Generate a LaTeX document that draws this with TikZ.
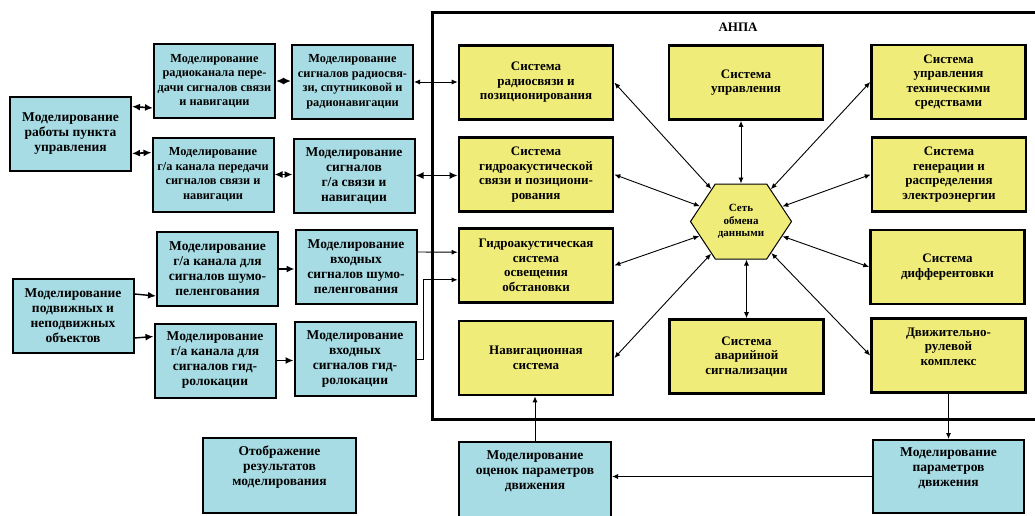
\documentclass[tikz,border=0pt]{standalone}
\usepackage{fontspec}
\setmainfont{Liberation Serif}
\usetikzlibrary{arrows.meta,shapes.symbols}
\definecolor{boxblue}{RGB}{168,220,228}
\definecolor{boxyellow}{RGB}{240,236,122}
\begin{document}
\begin{tikzpicture}[x=1pt,y=-1pt,>={Latex[length=6pt,width=5pt]},
    blue node/.style={draw,line width=2pt,fill=boxblue,minimum width=121pt,minimum height=74pt,inner sep=1pt,align=center,font=\bfseries\fontsize{13.5}{15}\selectfont},
    small text/.style={font=\bfseries\fontsize{12.3}{14.5}\selectfont},
    yellow node/.style={draw,line width=2.6pt,fill=boxyellow,minimum width=154pt,minimum height=74pt,inner sep=1pt,align=center,font=\bfseries\fontsize{13}{14.5}\selectfont},
    hex node/.style={shape=signal,signal to=east and west,signal pointer angle=113,draw,line width=1pt,fill=boxyellow,minimum width=101pt,minimum height=75pt,inner sep=0pt,align=center,font=\bfseries\fontsize{11}{12.5}\selectfont},
    link/.style={<->,line width=0.9pt},
    thick link/.style={{Latex[length=8pt,width=7pt]}-{Latex[length=8pt,width=7pt]},line width=1.6pt},
    thick arrow/.style={-{Latex[length=8pt,width=7pt]},line width=1.4pt}]
    \useasboundingbox (0,0) rectangle (1035,515);
    \clip (0,0) rectangle (1035,515);

    % frame of the vehicle
    \draw[line width=3pt] (432,12) rectangle (1045,419);
    \node[font=\bfseries\fontsize{13}{15}\selectfont] (title) at (738,27) {АНПА};

    % modelling blocks
    \node[blue node] (pu) at (70.5,133.5) {Моделирование\\работы пункта\\управления};
    \node[blue node] (mobj) at (73,316) {Моделирование\\подвижных и\\неподвижных\\объектов};
    \node[blue node, small text] (rk) at (214.5,81) {Моделирование\\радиоканала пере-\\дачи сигналов связи\\и навигации};
    \node[blue node, small text] (gak) at (213,174.5) {Моделирование\\г/а канала передачи\\сигналов связи и\\навигации};
    \node[blue node] (gshp) at (217.5,269) {Моделирование\\г/а канала для\\сигналов шумо-\\пеленгования};
    \node[blue node] (grl) at (215,360.5) {Моделирование\\г/а канала для\\сигналов гид-\\ролокации};
    \node[blue node, small text] (srs) at (352.5,82) {Моделирование\\сигналов радиосвя-\\зи, спутниковой и\\радионавигации};
    \node[blue node] (sgs) at (354,175.5) {Моделирование\\сигналов\\г/а связи и\\навигации};
    \node[blue node] (vsh) at (356,267) {Моделирование\\входных\\сигналов шумо-\\пеленгования};
    \node[blue node] (vgl) at (355,359) {Моделирование\\входных\\сигналов гид-\\ролокации};
    \node[blue node, minimum width=153pt, minimum height=75pt] (res) at (279.5,475.5) {Отображение\\результатов\\моделирования\\[4pt]};
    \node[blue node, minimum width=152pt, minimum height=75pt] (ocen) at (535,479.5) {Моделирование\\оценок параметров\\движения\\[4pt]};
    \node[blue node, minimum width=151pt, minimum height=73pt] (pd) at (948.5,476.5) {Моделирование\\параметров\\движения\\[4pt]};

    % onboard systems
    \node[yellow node] (sr) at (536,82.5) {Система\\радиосвязи и\\позиционирования};
    \node[yellow node] (sg) at (536,174.5) {Система\\гидроакустической\\связи и позициони-\\рования};
    \node[yellow node] (go) at (536,265.5) {Гидроакустическая\\система\\освещения\\обстановки};
    \node[yellow node] (nav) at (536,358) {Навигационная\\система};
    \node[yellow node] (su) at (746,82.5) {Система\\управления};
    \node[yellow node] (sa) at (746.5,356.5) {Система\\аварийной\\сигнализации};
    \node[yellow node] (sut) at (948.5,82) {Система\\управления\\техническими\\средствами};
    \node[yellow node] (sge) at (949,174.5) {Система\\генерации и\\распределения\\электроэнергии};
    \node[yellow node] (sd) at (947.5,267) {Система\\дифферентовки};
    \node[yellow node] (dr) at (948.5,355.5) {Движительно-\\рулевой\\комплекс\\[4pt]};
    \node[hex node] (net) at (741,221.5) {Сеть\\обмена\\данными};

    % links to the data network
    \path[link]
        (sr.east) edge (net)
        (sg.east) edge (net)
        (go.east) edge (net)
        (nav.east) edge (net)
        (net) edge (sut.west)
        (net) edge (sge.west)
        (net) edge (sd.west)
        (net) edge (dr.west)
        ;
    \draw[link] (net.north) -- (net.north |- su.south);
    \draw[link] (sa.north) -- (sa.north |- net.south);

    % links of the modelling blocks
    \draw[thick link] ([yshift=-11pt]pu.north east) -- ([yshift=11pt]rk.south west);
    \draw[thick link] ([yshift=18pt]pu.south east) -- ([yshift=-16pt]gak.north west);
    \draw[thick link] (rk.east) -- (rk.east -| srs.west);
    \draw[thick link] (gak.east) -- (gak.east -| sgs.west);
    \draw[link] (srs.east) -- (srs.east -| sr.west);
    \draw[thick link] (sgs.east) -- (sgs.east -| sg.west);
    \draw[thick arrow] ([yshift=-16pt]mobj.north east) -- ([yshift=11pt]gshp.south west);
    \draw[thick arrow] ([yshift=16pt]mobj.south east) -- ([yshift=-14pt]grl.north west);
    \draw[thick arrow] (gshp.east) -- (gshp.east -| vsh.west);
    \draw[thick arrow] (grl.east) -- (grl.east -| vgl.west);
    \draw[->,line width=0.9pt] ([yshift=-23pt]vsh.north east) -- ([yshift=-25pt]go.north west);
    \draw[->,line width=0.9pt] (vgl.east) -- ++(7,0) |- ([yshift=24pt]go.south west);

    % motion loop
    \draw[->,line width=0.9pt] (ocen.north) -- (ocen.north |- nav.south);
    \draw[->,line width=0.9pt] (dr.south) -- (pd.north);
    \draw[->,line width=0.9pt] (pd.west) -- (pd.west -| ocen.east);
\end{tikzpicture}
\end{document}
